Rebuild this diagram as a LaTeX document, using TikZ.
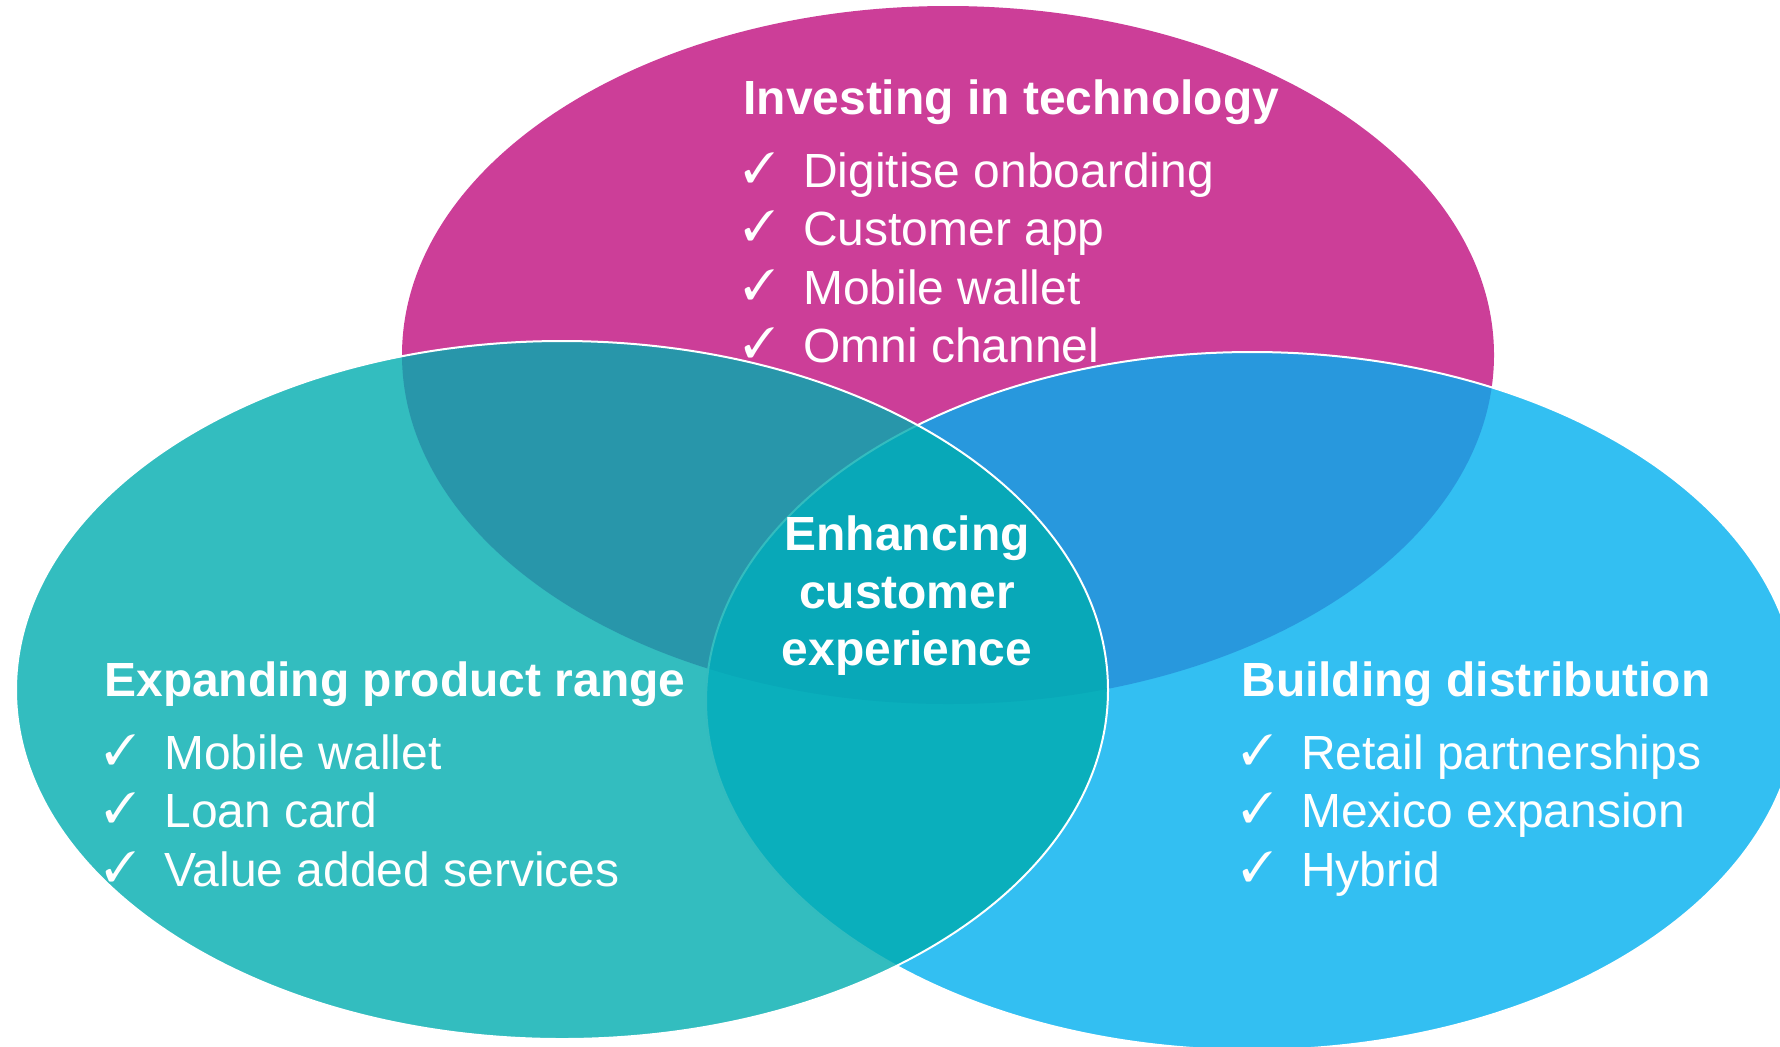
\documentclass[tikz,border=0pt]{standalone}
\usepackage{fontspec}
\setmainfont{Liberation Sans}
\usepackage{pifont}
\usepackage{xcolor}
\usetikzlibrary{positioning}

\definecolor{techpink}{RGB}{204,62,152}
\definecolor{prodteal}{RGB}{0,172,175}
\definecolor{distblue}{RGB}{0,175,239}

\newcommand{\tickmark}{\makebox[1.2cm][l]{\raisebox{0.1cm}{\scalebox{0.88}{\ding{51}}}}}

\begin{document}
\begin{tikzpicture}[x=0.02cm, y=-0.02cm, font=\fontsize{27.3}{32.7}\selectfont]
			\tikzstyle{head}=[text=white, font=\fontsize{27.3}{32.7}\selectfont\bfseries, inner sep=0pt, text height=0.75cm, text depth=0.25cm]
			\tikzstyle{item}=[text=white, inner sep=0pt, text height=0.75cm, text depth=0.25cm, anchor=north west]
			\tikzstyle{set}=[draw=white, line width=0.04cm, fill opacity=0.8]

			\useasboundingbox (0,0) rectangle (1780,1046);
			\clip (0,0) rectangle (1780,1046);

			% the three sets
			\fill[techpink] (948,355) ellipse [x radius=546, y radius=349];
			\path[set, fill=distblue] (1252,701) ellipse [x radius=546, y radius=349];
			\path[set, fill=prodteal] (562,690) ellipse [x radius=546, y radius=349];

			\node[head, anchor=base west] (techhead) at (743,114) {Investing in technology};
			\node[below=0.46cm of techhead.south west, item] (tech1) {\tickmark Digitise onboarding};
			\node[below=0.15cm of tech1.south west, item] (tech2) {\tickmark Customer app};
			\node[below=0.15cm of tech2.south west, item] (tech3) {\tickmark Mobile wallet};
			\node[below=0.15cm of tech3.south west, item] (tech4) {\tickmark Omni channel};

			\node[head, anchor=base west] (prodhead) at (104,696) {Expanding product range};
			\node[below=0.46cm of prodhead.south west, item] (prod1) {\tickmark Mobile wallet};
			\node[below=0.15cm of prod1.south west, item] (prod2) {\tickmark Loan card};
			\node[below=0.15cm of prod2.south west, item] (prod3) {\tickmark Value added services};

			\node[head, anchor=base west] (disthead) at (1241,696) {Building distribution};
			\node[below=0.46cm of disthead.south west, item] (dist1) {\tickmark Retail partnerships};
			\node[below=0.15cm of dist1.south west, item] (dist2) {\tickmark Mexico expansion};
			\node[below=0.15cm of dist2.south west, item] (dist3) {\tickmark Hybrid};

			\node[text=white, font=\fontsize{27.3}{32.7}\selectfont\bfseries, inner sep=0pt, align=center, anchor=north] (core) at (907,515.6) {Enhancing\\customer\\experience};
			\end{tikzpicture}
\end{document}
